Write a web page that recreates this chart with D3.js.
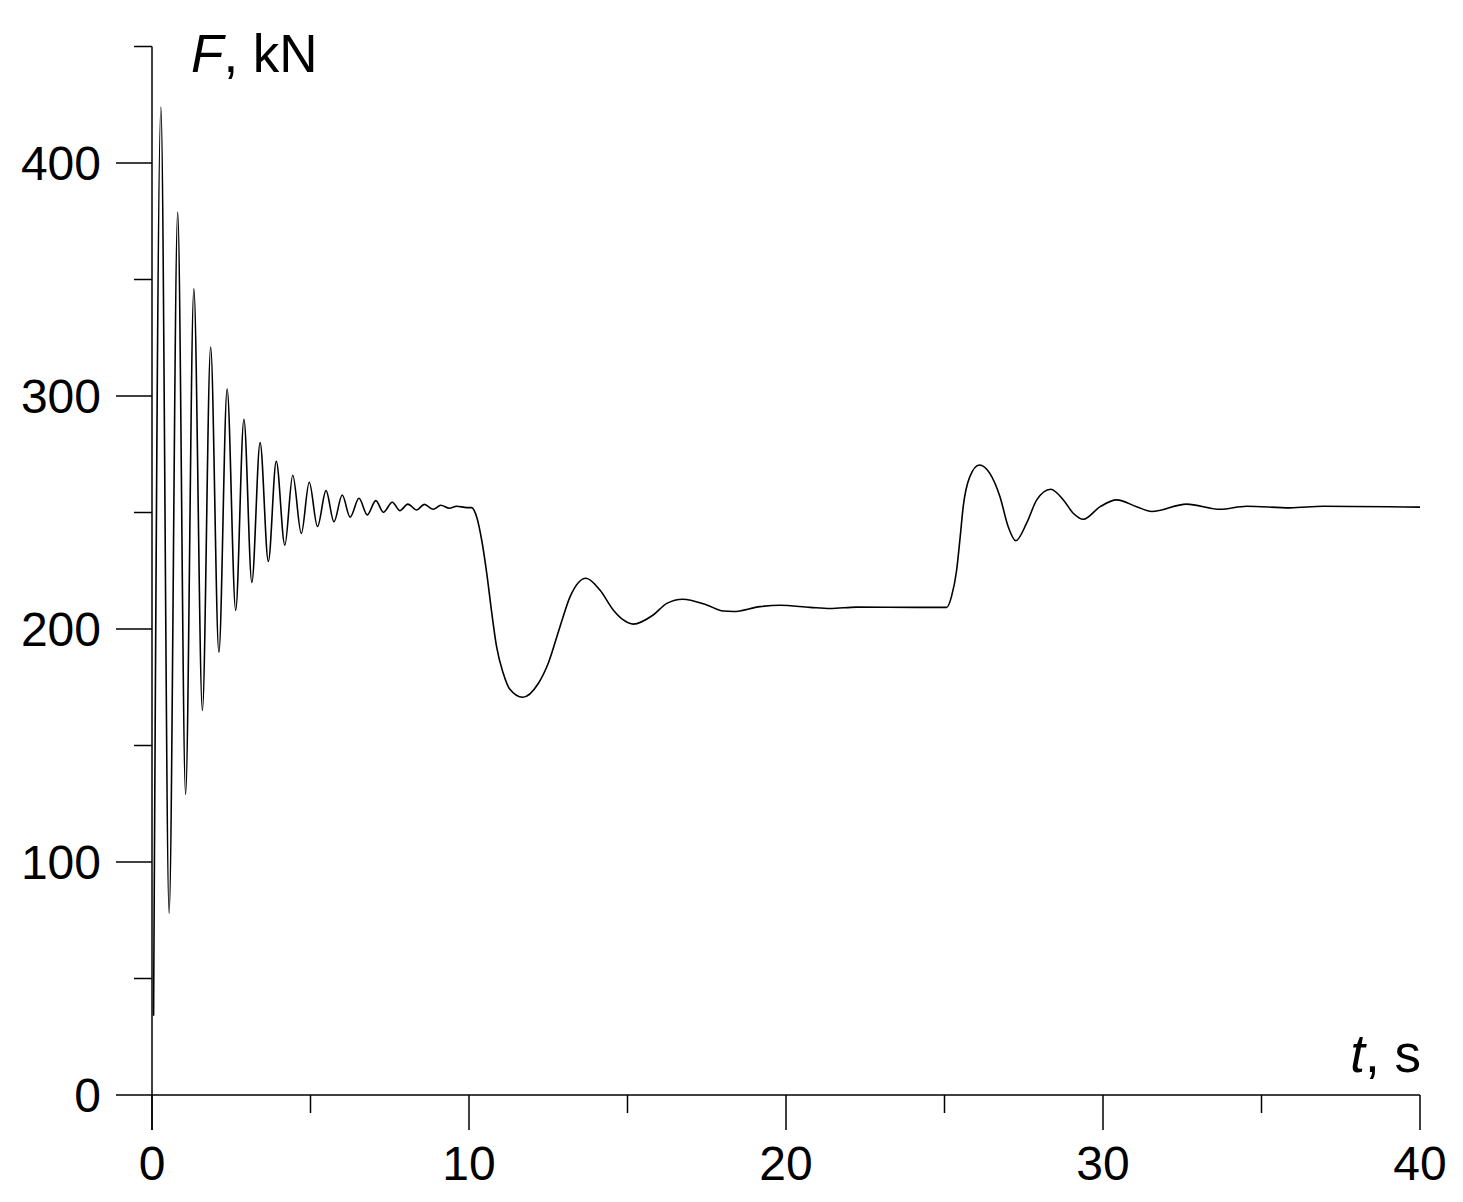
<!DOCTYPE html>
<html>
<head>
<meta charset="utf-8">
<script src="https://cdn.jsdelivr.net/npm/d3@7"></script>
<style>
  body { margin: 0; background: #fff; }
  text { font-family: "Liberation Sans", Arial, sans-serif; fill: #000; }
</style>
</head>
<body>
<div id="chart"></div>
<script>
// time (s) and force (kN) at extrema and bends
const times = [
  0.05, 0.28, 0.54, 0.81, 1.06, 1.32, 1.59, 1.85, 2.11, 2.37, 2.64, 2.90, 3.15, 3.41, 3.67, 3.92,
  4.19, 4.44, 4.71, 4.96, 5.22, 5.49, 5.74, 6.00, 6.25, 6.53, 6.79, 7.06, 7.30, 7.58, 7.82, 8.07,
  8.35, 8.59, 8.87, 9.11, 9.38, 9.61, 9.93, 10.08, 10.24, 10.40, 10.56, 10.72, 10.87, 11.08, 11.29,
  11.69, 12.19, 12.50, 12.87, 13.19, 13.69, 14.13, 14.55, 14.87, 15.18, 15.81, 16.24, 16.74, 17.5,
  18.02, 18.34, 19.18, 19.81, 20.76, 21.39, 22.23, 24.12, 25.07, 25.22, 25.38, 25.49, 25.59, 25.80,
  26.10, 26.43, 26.75, 27.01, 27.25, 27.59, 27.91, 28.35, 28.75, 29.06, 29.38, 29.91, 30.43, 31.06,
  31.54, 32.64, 33.69, 34.53, 35.9, 36.95, 40
];
const forces = [
  34, 424, 78, 379, 129, 346, 165, 321, 190, 303, 208, 290, 220, 280, 229, 272,
  236, 266, 241, 263, 244, 259.4, 246, 257.5, 248, 256.1, 249, 255.1, 250.1, 254.4, 250.8, 253.6,
  251.1, 253.5, 251.4, 253.1, 251.8, 252.7, 252.1, 252.1, 248.2, 238.2, 223.9, 206.7, 192.4, 181, 174.1,
  170.7, 176.7, 185.3, 201, 213.9, 221.8, 216.7, 208.2, 203.9, 202.1, 206, 211, 212.8, 210.3,
  207.7, 207.5, 209.6, 210.2, 209.3, 208.8, 209.4, 209.3, 209.3, 213.9, 225, 238.9, 252.5, 265.4,
  270.4, 266.8, 256.8, 243.9, 237.9, 245.4, 255.4, 260, 255.4, 249.7, 247.1, 252.5, 255.4, 252.5,
  250.4, 253.6, 251.4, 252.7, 252, 252.7, 252.3
];
const xTicks = [0, 10, 20, 30, 40];
const xMinor = [5, 15, 25, 35];
const yTicks = [0, 100, 200, 300, 400];
const yMinor = [50, 150, 250, 350, 450];

const width = 1463, height = 1202;
const svg = d3.select("#chart").append("svg")
  .attr("width", width)
  .attr("height", height);
svg.append("rect").attr("width", width).attr("height", height).attr("fill", "#fff");

const x = d3.scaleLinear().domain([0, 40]).range([152, 1420]);
const y = d3.scaleLinear().domain([0, 450]).range([1095, 46.5]);

const axis = svg.append("g").attr("stroke", "#000").attr("stroke-width", 1.5);

// axis lines
axis.append("line").attr("x1", 116).attr("x2", x(40)).attr("y1", y(0)).attr("y2", y(0));
axis.append("line").attr("x1", x(0)).attr("x2", x(0)).attr("y1", y(450)).attr("y2", y(0) + 35);

// x ticks
axis.selectAll(".xt").data(xTicks).enter().append("line")
  .attr("x1", d => x(d)).attr("x2", d => x(d))
  .attr("y1", y(0)).attr("y2", y(0) + 35);
axis.selectAll(".xm").data(xMinor).enter().append("line")
  .attr("x1", d => x(d)).attr("x2", d => x(d))
  .attr("y1", y(0)).attr("y2", y(0) + 18);

// y ticks
axis.selectAll(".yt").data(yTicks.filter(d => d > 0)).enter().append("line")
  .attr("x1", x(0) - 36).attr("x2", x(0))
  .attr("y1", d => y(d)).attr("y2", d => y(d));
axis.selectAll(".ym").data(yMinor).enter().append("line")
  .attr("x1", x(0) - 18).attr("x2", x(0))
  .attr("y1", d => y(d)).attr("y2", d => y(d));

// tick labels
svg.selectAll(".xl").data(xTicks).enter().append("text")
  .attr("x", d => x(d)).attr("y", 1180)
  .attr("text-anchor", "middle")
  .attr("font-size", 48)
  .text(d => d);
svg.selectAll(".yl").data(yTicks).enter().append("text")
  .attr("x", 101).attr("y", d => y(d) + 17)
  .attr("text-anchor", "end")
  .attr("font-size", 48)
  .text(d => d);

// axis titles
const ft = svg.append("text").attr("x", 191).attr("y", 72).attr("font-size", 53);
ft.append("tspan").attr("font-style", "italic").text("F");
ft.append("tspan").text(", kN");

const tt = svg.append("text").attr("x", 1421).attr("y", 1072)
  .attr("text-anchor", "end").attr("font-size", 53);
tt.append("tspan").attr("font-style", "italic").text("t");
tt.append("tspan").text(", s");

// the curve
const line = d3.line()
  .x(i => x(times[i]))
  .y(i => y(forces[i]))
  .curve(d3.curveMonotoneX);

svg.append("path")
  .attr("d", line(d3.range(times.length)))
  .attr("fill", "none")
  .attr("stroke", "#000")
  .attr("stroke-width", 1.6);
</script>
</body>
</html>
